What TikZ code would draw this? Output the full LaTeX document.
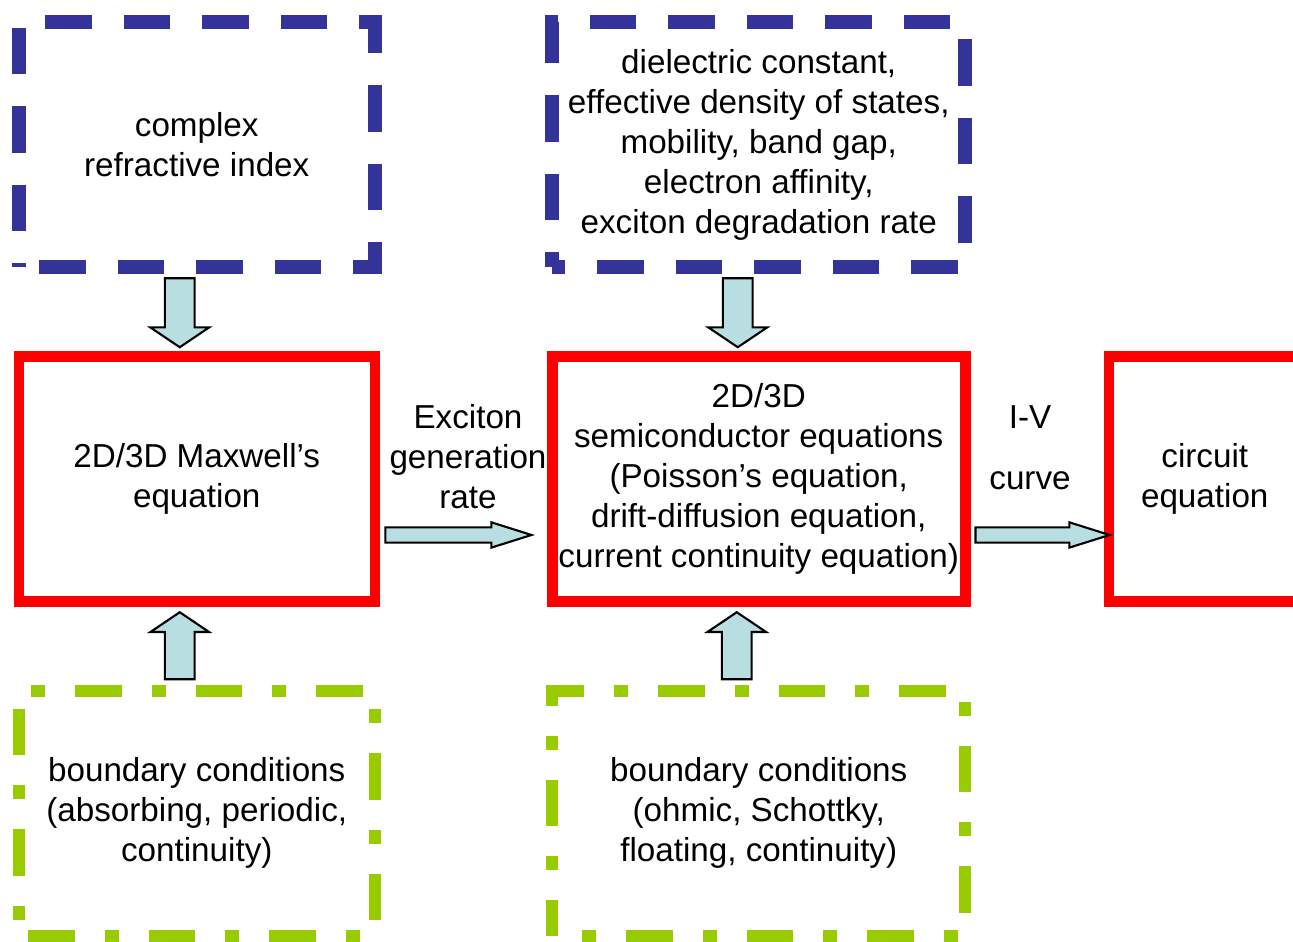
\documentclass[tikz,border=0pt]{standalone}
\usepackage{fontspec}
\setmainfont{Liberation Sans}
\usetikzlibrary{positioning,shapes.arrows,calc}
\definecolor{ParamBlue}{RGB}{51,51,153}
\definecolor{EqRed}{RGB}{255,0,0}
\definecolor{CondGreen}{RGB}{153,204,0}
\definecolor{ArrowCyan}{RGB}{185,222,225}
\tikzset{
  txt/.style={font=\fontsize{9.45}{11.4}\selectfont,align=center,inner sep=1pt},
  colone/.style={minimum width=3.56cm,minimum height=2.45cm},
  coltwo/.style={minimum width=4.13cm,minimum height=2.45cm},
  parambox/.style={txt,draw=ParamBlue,line width=0.14cm,
    dash pattern=on 0.467cm off 0.318cm},
  eqbox/.style={txt,draw=EqRed,line width=0.105cm},
  condbox/.style={txt,draw=CondGreen,line width=0.12cm,
    dash pattern=on 0.467cm off 0.3cm on 0.14cm off 0.3cm},
  fatshape/.style={single arrow,draw=black,fill=ArrowCyan,line width=0.6pt,
    outer sep=0pt,anchor=tail},
  fatarrow/.style={to path={
    let \p1=($(\tikztotarget)-(\tikztostart)$),
        \n1={veclen(\x1,\y1)}, \n2={mod(atan2(\y1,\x1)+360,360)} in
    node[fatshape,#1,minimum height=\n1,shape border rotate=\n2]
      at (\tikztostart) {}}},
  vfat/.style={fatarrow={inner sep=0.138cm,
    single arrow head extend=0.145cm,single arrow tip angle=112}},
  hfat/.style={fatarrow={inner sep=0.066cm,
    single arrow head extend=0.05cm,single arrow tip angle=35}}
}

\begin{document}
\begin{tikzpicture}
  \useasboundingbox (0,0) rectangle (12.93,9.42);
  \clip (0,0) rectangle (12.93,9.42);
  % equation boxes
  \node[eqbox,colone] (mx) at (1.9675,4.63) {2D/3D Maxwell’s\\equation};
  \node[eqbox,coltwo,right=1.67cm of mx] (sc) {2D/3D\\semiconductor equations\\(Poisson’s equation,\\drift-diffusion equation,\\current continuity equation)};
  \node[eqbox,minimum width=1.92cm,minimum height=2.45cm,right=1.33cm of sc] (ce) {circuit\\equation};
  % inputs
  \node[parambox,colone,dash phase=0.58cm,above=0.77cm of mx] (ri) {complex\\refractive index};
  \node[parambox,coltwo,dash phase=0.337cm,above=0.77cm of sc] (mp) {dielectric constant,\\effective density of states,\\mobility, band gap,\\electron affinity,\\exciton degradation rate};
  \node[condbox,colone,dash phase=1.115cm,below=0.78cm of mx] (bo) {boundary conditions\\(absorbing, periodic,\\continuity)};
  \node[condbox,coltwo,dash phase=0.47cm,below=0.78cm of sc] (be) {boundary conditions\\(ohmic, Schottky,\\floating, continuity)};
  % labels
  \node[txt] (gr) at (4.68,4.85) {Exciton\\generation\\rate};
  \node[txt] (iv) at (10.30,4.945) {I-V\\[0.21cm]curve};
  % block arrows
  \path ([xshift=-0.17cm,yshift=-0.04cm]ri.south) to[vfat] ([xshift=-0.17cm,yshift=0.04cm]mx.north);
  \path ([xshift=-0.21cm,yshift=-0.04cm]mp.south) to[vfat] ([xshift=-0.21cm,yshift=0.04cm]sc.north);
  \path ([xshift=-0.17cm,yshift=0.055cm]bo.north) to[vfat] ([xshift=-0.17cm,yshift=-0.055cm]mx.south);
  \path ([xshift=-0.22cm,yshift=0.055cm]be.north) to[vfat] ([xshift=-0.22cm,yshift=-0.055cm]sc.south);
  \path ([xshift=0.054cm,yshift=-0.56cm]mx.east) to[hfat] ([xshift=-0.155cm,yshift=-0.56cm]sc.west);
  \path ([xshift=0.05cm,yshift=-0.56cm]sc.east) to[hfat] ([xshift=0.06cm,yshift=-0.56cm]ce.west);
\end{tikzpicture}
\end{document}
